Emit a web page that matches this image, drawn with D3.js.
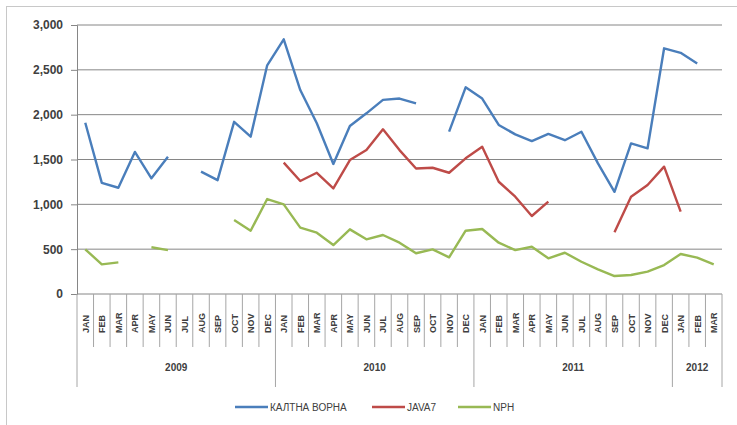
<!DOCTYPE html>
<html><head><meta charset="utf-8">
<script src="https://cdn.jsdelivr.net/npm/d3@7"></script>
<style>body{margin:0;background:#fff;}svg{display:block;font-family:"Liberation Sans",Arial,sans-serif;}</style>
</head><body><svg id="c" width="737" height="425"></svg>
<script>
const months = ["JAN","FEB","MAR","APR","MAY","JUN","JUL","AUG","SEP","OCT","NOV","DEC"];
const years = ["2009","2010","2011","2012"];
const yearMonthCounts = [12,12,12,3];
const seriesNames = ["КАЛТНА ВОРНА","JAVA7","NPH"];
const seriesColors = ["#4a7ebb","#be4b48","#98b954"];
const yTicks = [0,500,1000,1500,2000,2500,3000];
// Jan 2009 .. Mar 2012 (39 months), null = gap
const kaltna = [1910,1240,1185,1585,1290,1530,null,1365,1270,1920,1755,2550,
                2840,2275,1905,1450,1873,2015,2165,2180,2125,null,1810,2305,
                2180,1885,1780,1705,1785,1715,1810,1457,1140,1680,1625,2740,
                2690,2570,null];
const java7 = [null,null,null,null,null,null,null,null,null,null,null,null,
               1465,1260,1352,1178,1494,1605,1836,1605,1400,1408,1352,1513,
               1642,1252,1085,870,1030,null,null,null,688,1085,1215,1420,
               918,null,null];
const nph = [498,331,353,null,521,490,null,null,null,825,706,1059,
             1000,740,684,546,721,610,658,572,454,498,409,706,
             725,572,490,527,398,460,360,275,200,212,249,323,
             446,405,331];

const svg = d3.select("#c");
// outer frame
svg.append("rect").attr("x",6.5).attr("y",6.5).attr("width",760).attr("height",440)
  .attr("fill","none").attr("stroke","#c8c8c8");

const cats = [];
years.forEach((yr,i)=>{ for(let m=0;m<yearMonthCounts[i];m++) cats.push({m:months[m],y:yr}); });
const x = d3.scaleBand().domain(d3.range(cats.length)).range([77,722]).padding(0);
const y = d3.scaleLinear().domain([0,3000]).range([294,25]);

// gridlines
svg.append("g").selectAll("line").data(yTicks.filter(t=>t>0)).join("line")
  .attr("x1",77).attr("x2",722).attr("y1",d=>y(d)).attr("y2",d=>y(d))
  .attr("stroke","#868686").attr("stroke-width",1);

// y axis
const yAxis = d3.axisLeft(y).tickValues(yTicks).tickSize(6).tickPadding(8).tickFormat(d3.format(","));
const gy = svg.append("g").attr("transform","translate(77,0)").call(yAxis);
gy.select(".domain").attr("stroke","#868686");
gy.selectAll(".tick line").attr("stroke","#868686");
gy.selectAll("text").attr("font-size","12px").attr("font-weight","bold").attr("fill","#404040");

// x axis baseline
svg.append("line").attr("x1",77).attr("x2",722).attr("y1",294).attr("y2",294).attr("stroke","#868686");

// month separators
const bounds = d3.range(cats.length+1);
const yearStarts = [0]; yearMonthCounts.reduce((a,c)=>{yearStarts.push(a+c);return a+c;},0);
svg.append("g").selectAll("line").data(bounds).join("line")
  .attr("x1",i=>x(0)+i*x.bandwidth()).attr("x2",i=>x(0)+i*x.bandwidth())
  .attr("y1",294).attr("y2",i=>yearStarts.includes(i)?387:347)
  .attr("stroke","#a6a6a6").attr("stroke-width",1);

// month labels
svg.append("g").selectAll("text").data(cats).join("text")
  .attr("transform",(d,i)=>`translate(${x(i)+x.bandwidth()/2+3.5},333) rotate(-90)`)
  .attr("font-size","9px").attr("font-weight","bold").attr("fill","#404040")
  .text(d=>d.m);

// year labels
svg.append("g").selectAll("text").data(years).join("text")
  .attr("x",(d,i)=>x(0)+(yearStarts[i]+yearMonthCounts[i]/2)*x.bandwidth())
  .attr("y",371).attr("text-anchor","middle")
  .attr("font-size","10px").attr("font-weight","bold").attr("fill","#404040")
  .text(d=>d);

// lines
const allSeries = [kaltna, java7, nph];
const line = d3.line().defined(d=>d!=null).x((d,i)=>x(i)+x.bandwidth()/2).y(d=>y(d));
allSeries.forEach((s,k)=>{
  svg.append("path").datum(s).attr("d",line).attr("fill","none")
    .attr("stroke",seriesColors[k]).attr("stroke-width",2.4).attr("stroke-linejoin","round");
});

// legend
const legendX = [235,372,458];
const lg = svg.append("g");
seriesNames.forEach((n,k)=>{
  lg.append("line").attr("x1",legendX[k]).attr("x2",legendX[k]+33).attr("y1",407).attr("y2",407)
    .attr("stroke",seriesColors[k]).attr("stroke-width",2.4);
  lg.append("text").attr("x",legendX[k]+35).attr("y",410.5)
    .attr("font-size","10px").attr("fill","#404040").text(n);
});
</script></body></html>
